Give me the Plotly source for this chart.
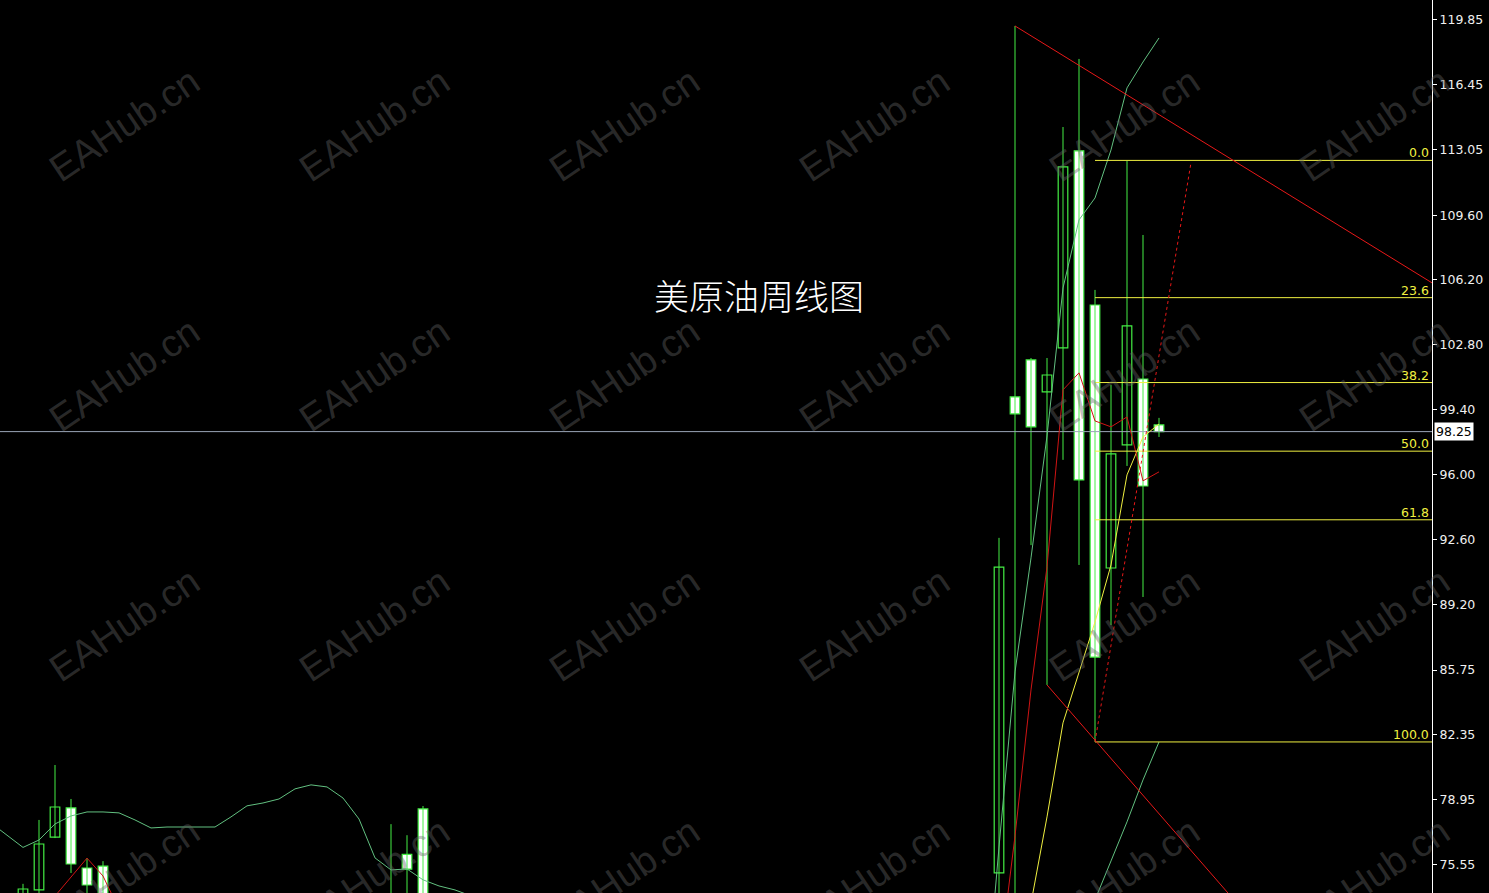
import plotly.graph_objects as go

# ---------------- data ----------------
# weekly candles: bar index, open, high, low, close
idx    = [0, 1, 2, 3, 4, 5, 23, 24, 25, 61, 62, 63, 64, 65, 66, 67, 68, 69, 70, 71]
opens  = [73.60, 74.22, 76.99, 78.52, 75.37, 75.47, 73.70, 76.09, 78.47, 75.11,
          100.07, 102.01, 100.33, 102.64, 112.97, 104.89, 91.10, 97.55, 101.01, 98.60]
highs  = [74.54, 77.89, 80.77, 78.99, 75.89, 75.73, 77.67, 77.09, 78.62, 92.68,
          119.52, 102.11, 102.11, 114.22, 117.79, 105.68, 100.70, 112.44, 108.56, 98.97]
lows   = [73.00, 73.50, 76.94, 75.11, 73.60, 73.00, 73.00, 73.80, 73.00, 72.00,
          72.00, 92.30, 84.97, 96.77, 91.26, 81.98, 88.11, 96.45, 89.58, 97.97]
closes = [74.27, 76.63, 78.57, 75.58, 74.48, 73.50, 73.40, 75.31, 73.80, 91.15,
          99.18, 98.50, 101.22, 112.13, 95.72, 86.43, 97.08, 103.79, 95.40, 98.25]

# red moving average (MA5)
ma5_left_x = [2, 3, 4, 5, 6]
ma5_left_y = [73.90, 74.92, 75.89, 74.95, 73.20]
ma5_right_x = [60, 61, 62, 63, 64, 65, 66, 67, 68, 69, 70, 71]
ma5_right_y = [66.00, 70.22, 77.05, 84.71, 91.16, 100.44, 101.33, 98.81, 98.50, 99.02, 95.67, 96.14]

# yellow moving average
mid_x = [62, 63, 64, 65, 66, 67, 68, 69, 70, 71]
mid_y = [69.00, 73.49, 78.05, 82.98, 85.65, 88.27, 91.26, 95.98, 97.97, 98.65]

# green band (upper)
up_left_x = list(range(-2, 29))
up_left_y = [77.73, 77.10, 76.45, 76.84, 77.68, 78.10, 78.31, 78.31, 78.26, 77.89,
             77.47, 77.52, 77.52, 77.52, 77.52, 78.05, 78.63, 78.78, 78.99, 79.52,
             79.73, 79.62, 79.04, 77.94, 75.90, 75.27, 75.32, 74.75, 74.43, 74.22, 73.91]
up_right_x = [60, 61, 62, 63, 64, 65, 66, 67, 68, 69, 70, 71]
up_right_y = [66.70, 76.47, 85.65, 91.63, 98.02, 105.78, 109.35, 110.50, 113.02, 116.27, 117.63, 118.89]

# green band (lower)
low_band_x = [66, 67, 68, 69, 70, 71]
low_band_y = [71.00, 73.70, 75.74, 77.79, 79.99, 81.98]

# Fibonacci retracement
fib_start = 67
fib_high = 112.47
fib_low = 81.98
fib_ratios = [0.0, 23.6, 38.2, 50.0, 61.8, 100.0]
fib_labels = ["0.0", "23.6", "38.2", "50.0", "61.8", "100.0"]
fib_diag_x = [67, 73]
fib_diag_y = [81.98, 112.35]

# red trend lines
trend_top_x = [62, 88.0625]
trend_top_y = [119.52, 106.05]
trend_bot_x = [64, 88.0625]
trend_bot_y = [84.97, 61.76]

last_price = 98.25
y_tick_labels = ["119.85", "116.45", "113.05", "109.60", "106.20", "102.80", "99.40",
                 "96.00", "92.60", "89.20", "85.75", "82.35", "78.95", "75.55"]
title_text = "美原油周线图"
watermark = "EAHub.cn"

X_RANGE = [-1.4375, 88.0625]
Y_RANGE = [74.06, 120.88]

GREEN = "#44ee44"
BAND = "#62c080"
RED_MA = "#d01414"
RED_TL = "#e81818"
YELLOW = "#f0f040"

fig = go.Figure()

# wicks
wx, wy = [], []
for i, h, l in zip(idx, highs, lows):
    wx += [i, i, None]
    wy += [l, h, None]
fig.add_trace(go.Scatter(x=wx, y=wy, mode="lines", line=dict(color=GREEN, width=1),
                         hoverinfo="skip"))

# bodies
bull = [k for k in range(len(idx)) if closes[k] >= opens[k]]
bear = [k for k in range(len(idx)) if closes[k] < opens[k]]
for group, fill in ((bull, "#000000"), (bear, "#ffffff")):
    fig.add_trace(go.Bar(
        x=[idx[k] for k in group],
        y=[abs(closes[k] - opens[k]) for k in group],
        base=[min(opens[k], closes[k]) for k in group],
        width=0.6,
        marker=dict(color=fill, line=dict(color=GREEN, width=1.2)),
        hoverinfo="skip"))

# current price line
fig.add_trace(go.Scatter(x=X_RANGE, y=[last_price, last_price], mode="lines",
                         line=dict(color="#9aa6b8", width=1), hoverinfo="skip"))

# bands / moving averages
for xs, ys in ((up_left_x, up_left_y), (up_right_x, up_right_y), (low_band_x, low_band_y)):
    fig.add_trace(go.Scatter(x=xs, y=ys, mode="lines", line=dict(color=BAND, width=1),
                             hoverinfo="skip"))
fig.add_trace(go.Scatter(x=mid_x, y=mid_y, mode="lines", line=dict(color=YELLOW, width=1),
                         hoverinfo="skip"))
for xs, ys in ((ma5_left_x, ma5_left_y), (ma5_right_x, ma5_right_y)):
    fig.add_trace(go.Scatter(x=xs, y=ys, mode="lines", line=dict(color=RED_MA, width=1),
                             hoverinfo="skip"))

# fibonacci levels
for r, lab in zip(fib_ratios, fib_labels):
    lvl = fib_high - (fib_high - fib_low) * r / 100.0
    fig.add_trace(go.Scatter(x=[fib_start, X_RANGE[1]], y=[lvl, lvl], mode="lines",
                             line=dict(color=YELLOW, width=1), hoverinfo="skip"))
    fig.add_annotation(x=1, xref="paper", y=lvl, yref="y", text=lab, showarrow=False,
                       xanchor="right", yanchor="bottom", xshift=-1, yshift=-2,
                       font=dict(family="DejaVu Sans", size=12.5, color=YELLOW))
fig.add_trace(go.Scatter(x=fib_diag_x, y=fib_diag_y, mode="lines",
                         line=dict(color=RED_TL, width=1, dash="dot"), hoverinfo="skip"))

# trend lines
for xs, ys in ((trend_top_x, trend_top_y), (trend_bot_x, trend_bot_y)):
    fig.add_trace(go.Scatter(x=xs, y=ys, mode="lines", line=dict(color=RED_TL, width=1),
                             hoverinfo="skip"))

# title
fig.add_annotation(x=759 / 1432, y=1 - 295 / 893, xref="paper", yref="paper",
                   text=title_text, showarrow=False, xanchor="center", yanchor="middle",
                   font=dict(family="Noto Sans CJK SC", size=35, color="#ffffff", weight=300))

# watermarks
for cx in (124, 374, 624, 874, 1124, 1374):
    for cy in (125, 375, 625, 875):
        fig.add_annotation(x=cx / 1432, y=1 - cy / 893, xref="paper", yref="paper",
                           text=watermark, showarrow=False, textangle=-34,
                           xanchor="center", yanchor="middle",
                           font=dict(family="Liberation Sans", size=38,
                                     color="rgba(100,100,100,0.42)"))

# price label
fig.add_annotation(x=1, xref="paper", y=last_price, yref="y", text="98.25", showarrow=False,
                   xanchor="left", yanchor="middle", xshift=2, bgcolor="#ffffff",
                   borderpad=1, font=dict(family="DejaVu Sans", size=12.5, color="#000000"))

fig.update_layout(
    width=1489, height=893,
    margin=dict(l=0, r=57, t=0, b=0, pad=0),
    paper_bgcolor="#000000", plot_bgcolor="#000000",
    showlegend=False, barmode="overlay",
    xaxis=dict(range=X_RANGE, visible=False, fixedrange=True),
    yaxis=dict(range=Y_RANGE, side="right", showgrid=False, zeroline=False,
               tickmode="array", tickvals=[float(t) for t in y_tick_labels],
               ticktext=y_tick_labels, ticks="outside", ticklen=4, tickcolor="#ffffff",
               showline=True, linecolor="#ffffff", linewidth=1, automargin=False,
               tickfont=dict(family="DejaVu Sans", size=12.5, color="#f0f0f0"),
               fixedrange=True),
)

fig.write_html("out.html", config={"displayModeBar": False},
               post_script="document.body.style.margin='0';")
